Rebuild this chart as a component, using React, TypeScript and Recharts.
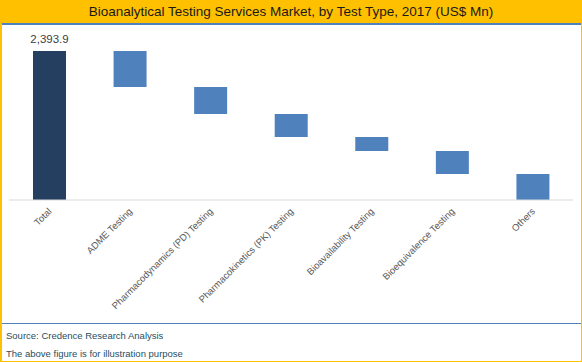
import React from "react";
import { BarChart, Bar, XAxis, YAxis, Cell } from "recharts";

const categories = [
  "Total",
  "ADME Testing",
  "Pharmacodynamics (PD) Testing",
  "Pharmacokinetics (PK) Testing",
  "Bioavailability Testing",
  "Bioequivalence Testing",
  "Others",
];
const values = [2393.9, 578, 434, 370, 225, 370, 416.9];
const totalLabel = "2,393.9";

const TOTAL = values[0];
const data = (() => {
  let remaining = TOTAL;
  return categories.map((name, i) => {
    if (i === 0) return { name, base: 0, value: values[0] };
    remaining -= values[i];
    return { name, base: Math.max(0, remaining), value: values[i] };
  });
})();

const FONT = "'Liberation Sans', Arial, sans-serif";

const Tick = (props: any) => {
  const { x, y, payload } = props;
  return (
    <g transform={`translate(${x + 3},${y + 4})`}>
      <text
        x={0}
        y={0}
        transform="rotate(-45)"
        textAnchor="end"
        fontSize={9.5}
        fontFamily={FONT}
        fill="#595959"
      >
        {payload.value}
      </text>
    </g>
  );
};

const TotalLabel = (props: any) => {
  const { x, y, width, index } = props;
  if (index !== 0) return null;
  return (
    <text
      x={x + width / 2}
      y={y - 8}
      textAnchor="middle"
      fontSize={11.5}
      fontFamily={FONT}
      fill="#404040"
    >
      {totalLabel}
    </text>
  );
};

export default function App() {
  return (
    <div
      style={{
        position: "absolute",
        left: 0,
        top: 0,
        width: 582,
        height: 362,
        boxSizing: "border-box",
        background: "#fff",
        borderLeft: "2px solid #FFC000",
        borderRight: "1px solid #FFC000",
        borderBottom: "1px solid #FFC000",
        overflow: "hidden",
        fontFamily: FONT,
      }}
    >
      <div
        style={{
          position: "absolute",
          left: -2,
          top: 0,
          width: 582,
          height: 23,
          background: "#FFC000",
          color: "#1a1a1a",
          fontSize: 13.5,
          lineHeight: "23px",
          textAlign: "center",
        }}
      >
        Bioanalytical Testing Services Market, by Test Type, 2017 (US$ Mn)
      </div>
      <div
        style={{
          position: "absolute",
          left: 0,
          top: 23,
          width: 579,
          height: 2,
          background: "#4F81BD",
        }}
      />
      <div style={{ position: "absolute", left: -1, top: 25 }}>
        <BarChart
          width={580}
          height={298}
          data={data}
          margin={{ top: 26, right: 8, left: 8, bottom: 0 }}
        >
          <XAxis
            dataKey="name"
            interval={0}
            height={123}
            tickLine={false}
            axisLine={{ stroke: "#D9D9D9" }}
            tick={<Tick />}
          />
          <YAxis hide domain={[0, TOTAL]} />
          <Bar
            dataKey="base"
            stackId="w"
            fill="transparent"
            barSize={33}
            isAnimationActive={false}
          />
          <Bar
            dataKey="value"
            stackId="w"
            barSize={33}
            isAnimationActive={false}
            label={<TotalLabel />}
          >
            {data.map((d, i) => (
              <Cell key={d.name} fill={i === 0 ? "#243F60" : "#4F81BD"} />
            ))}
          </Bar>
        </BarChart>
      </div>
      <div
        style={{
          position: "absolute",
          left: 0,
          top: 323,
          width: 579,
          height: 1,
          background: "#4F81BD",
        }}
      />
      <div
        style={{
          position: "absolute",
          left: 4,
          top: 327,
          fontSize: 9.5,
          color: "#1F4E5F",
          lineHeight: "18px",
        }}
      >
        <div>Source: Credence Research Analysis</div>
        <div>The above figure is for illustration purpose</div>
      </div>
    </div>
  );
}
